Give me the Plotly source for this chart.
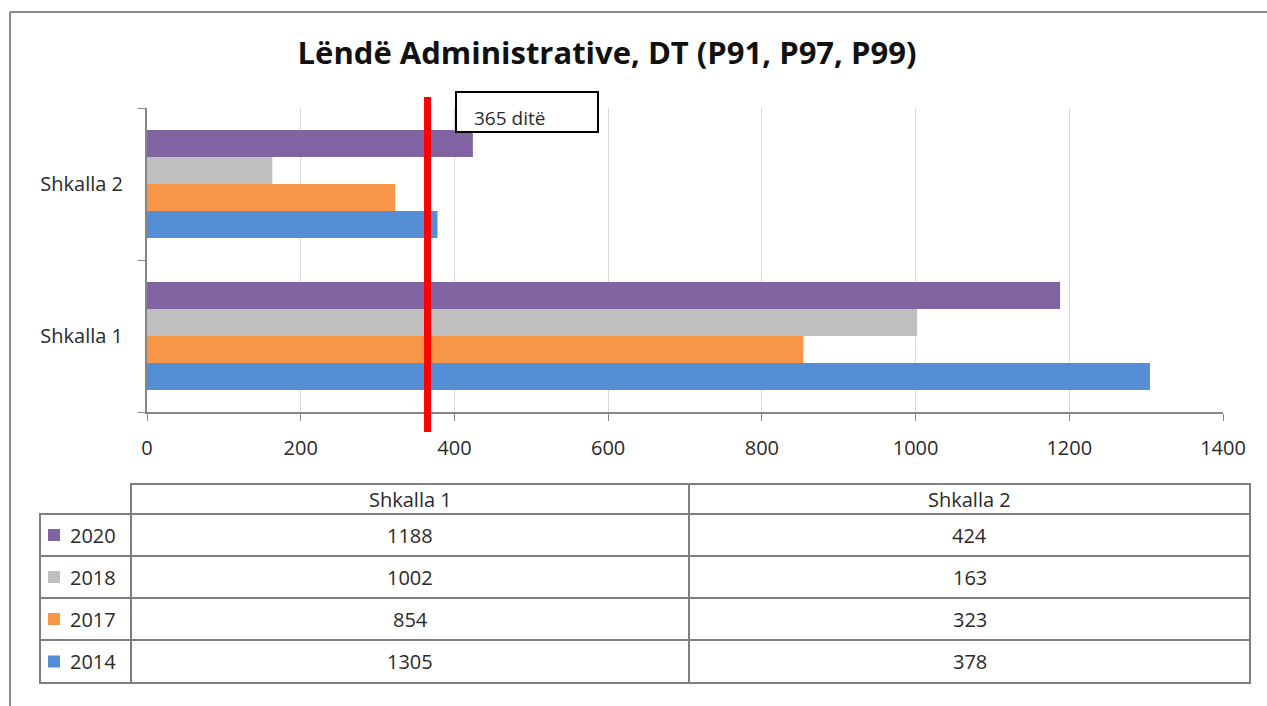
import plotly.graph_objects as go

categories = ["Shkalla 1", "Shkalla 2"]
years = ["2014", "2017", "2018", "2020"]
vals_2014 = [1305, 378]
vals_2017 = [854, 323]
vals_2018 = [1002, 163]
vals_2020 = [1188, 424]
colors = ["#558ED5", "#F79646", "#BFBFBF", "#8064A2"]
threshold = 365
threshold_label = "365 ditë"
title = "Lëndë Administrative, DT (P91, P97, P99)"
x_ticks = [0, 200, 400, 600, 800, 1000, 1200, 1400]

series = [vals_2014, vals_2017, vals_2018, vals_2020]

W, H = 1267, 706
L, R, T, B = 147, 1223, 108, 412
FONT = "Open Sans"
TXT = "#2A2A2A"


def px(x):
    return (x - L) / (R - L)


def py(y):
    return (B - y) / (B - T)


fig = go.Figure()
for yr, v, c in zip(years, series, colors):
    fig.add_trace(go.Bar(y=categories, x=v, name=yr, orientation="h",
                         marker=dict(color=c, line=dict(width=0))))

shapes = []
annotations = []

# threshold line
shapes.append(dict(type="line", xref="x", yref="paper", x0=threshold, x1=threshold,
                   y0=py(432), y1=py(97), line=dict(color="#FF0000", width=7), layer="above"))
# label box
shapes.append(dict(type="rect", xref="paper", yref="paper", x0=px(456), x1=px(598),
                   y0=py(132), y1=py(92), line=dict(color="#000000", width=2),
                   fillcolor="white", layer="above"))
annotations.append(dict(text=threshold_label, xref="paper", yref="paper", x=px(472), y=py(118),
                        xanchor="left", yanchor="middle", showarrow=False,
                        font=dict(family=FONT, size=19, color=TXT)))

# outer border
bc = "#8C8C8C"
shapes.append(dict(type="line", xref="paper", yref="paper", x0=px(10), x1=px(1267),
                   y0=py(12), y1=py(12), line=dict(color=bc, width=2)))
shapes.append(dict(type="line", xref="paper", yref="paper", x0=px(10), x1=px(10),
                   y0=py(12), y1=py(706), line=dict(color=bc, width=2)))

# data table
tc = "#7F7F7F"
col_x = [40, 131, 689, 1250]
row_y = [484, 514, 556, 598, 640, 683]
shapes.append(dict(type="rect", xref="paper", yref="paper", x0=px(col_x[1]), x1=px(col_x[3]),
                   y0=py(row_y[1]), y1=py(row_y[0]), line=dict(color=tc, width=2)))
shapes.append(dict(type="rect", xref="paper", yref="paper", x0=px(col_x[0]), x1=px(col_x[3]),
                   y0=py(row_y[5]), y1=py(row_y[1]), line=dict(color=tc, width=2)))
for yy in row_y[2:5]:
    shapes.append(dict(type="line", xref="paper", yref="paper", x0=px(col_x[0]), x1=px(col_x[3]),
                       y0=py(yy), y1=py(yy), line=dict(color=tc, width=2)))
for xx in col_x[1:3]:
    shapes.append(dict(type="line", xref="paper", yref="paper", x0=px(xx), x1=px(xx),
                       y0=py(row_y[5]), y1=py(row_y[0]), line=dict(color=tc, width=2)))

tfont = dict(family=FONT, size=20, color=TXT)
for j, cat in enumerate(categories):
    cx = (col_x[j + 1] + col_x[j + 2]) / 2
    annotations.append(dict(text=cat, xref="paper", yref="paper", x=px(cx),
                            y=py((row_y[0] + row_y[1]) / 2), showarrow=False,
                            xanchor="center", yanchor="middle", font=tfont))

order = list(range(len(years)))[::-1]
for r, i in enumerate(order):
    cy = (row_y[r + 1] + row_y[r + 2]) / 2
    shapes.append(dict(type="rect", xref="paper", yref="paper", x0=px(48), x1=px(60),
                       y0=py(cy + 6), y1=py(cy - 6), fillcolor=colors[i], line=dict(width=0)))
    annotations.append(dict(text=years[i], xref="paper", yref="paper", x=px(68), y=py(cy),
                            showarrow=False, xanchor="left", yanchor="middle",
                            font=tfont))
    for j in range(len(categories)):
        cx = (col_x[j + 1] + col_x[j + 2]) / 2
        annotations.append(dict(text=str(series[i][j]), xref="paper", yref="paper", x=px(cx),
                                y=py(cy), showarrow=False, xanchor="center", yanchor="middle",
                                font=tfont))

fig.update_layout(
    width=W, height=H, autosize=False,
    margin=dict(l=L, r=W - R, t=T, b=H - B),
    paper_bgcolor="white", plot_bgcolor="white",
    barmode="group", bargap=0.29, bargroupgap=0,
    showlegend=False,
    title=dict(text="<b>" + title + "</b>", x=(292 + 922) / 2 / W, xanchor="center",
               y=1 - 53 / H, yanchor="middle",
               font=dict(family=FONT, size=31, color="#111111")),
    xaxis=dict(range=[0, 1400], tickvals=x_ticks, ticktext=[str(t) for t in x_ticks],
               showgrid=True, gridcolor="#D9D9D9", gridwidth=1,
               showline=True, linecolor="#868686", linewidth=2,
               ticks="outside", ticklen=7, tickcolor="#868686",
               tickfont=dict(family=FONT, size=20, color=TXT), zeroline=False,
               ticklabelstandoff=10, fixedrange=True),
    yaxis=dict(categoryorder="array", categoryarray=categories,
               showline=True, linecolor="#868686", linewidth=2,
               ticks="outside", ticklen=7, tickcolor="#868686", tickson="boundaries",
               tickfont=dict(family=FONT, size=20, color=TXT), showgrid=False,
               ticklabelstandoff=18, fixedrange=True),
    shapes=shapes, annotations=annotations,
)

fig.write_html("out.html", config={"displayModeBar": False},
               post_script="document.body.style.margin='0';document.body.style.overflow='hidden';")
